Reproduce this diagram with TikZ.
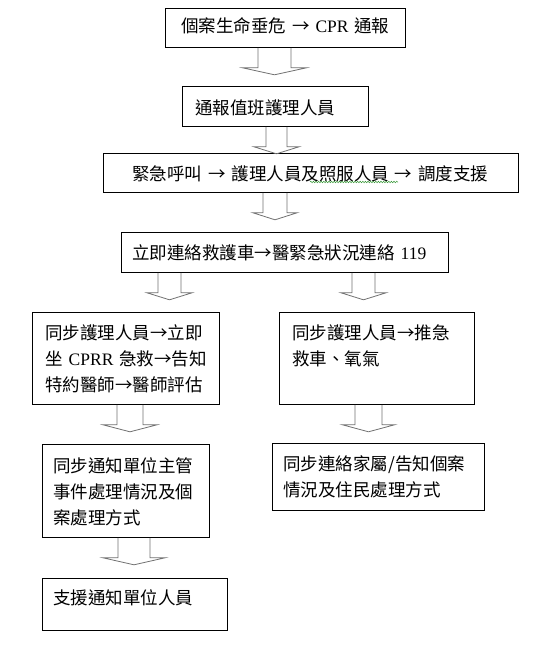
\documentclass[tikz,border=0pt]{standalone}
\usepackage{fontspec}
\setmainfont{Noto Sans CJK TC}
\newfontfamily\timesfont{Liberation Serif}
\usepackage{tikz}
\usepackage{xcolor}
\usetikzlibrary{decorations.pathmorphing}
\definecolor{ink}{HTML}{000000}
\definecolor{arrowgray}{HTML}{707070}
\definecolor{spellgreen}{HTML}{3A9A3A}
\tikzset{
  stepbox/.style={draw=ink, fill=white, line width=0.8pt, anchor=north west,
                  inner ysep=0pt, align=left, font=\fontsize{17.5}{26}\selectfont},
  fatarrow/.style={draw=arrowgray, line width=0.8pt, line join=miter}
}
% block arrow hanging under a box: node, x centre, shaft half, head half
\newcommand\fatdown[4]{%
  \draw[fatarrow] (#1.south -| #2,0) ++(-#3,0) -- ++(0,20) -- ++(#3-#4,0)
    -- ++(#4,7) -- ++(#4,-7) -- ++(#3-#4,0) -- ++(0,-20);}

\begin{document}
\begin{tikzpicture}[x=1pt,y=-1pt]
  \useasboundingbox (0,0) rectangle (542,647);

  % main column
  \node[stepbox, align=center, inner xsep=0pt, text width=240pt,
        text height=24.5pt, text depth=14.5pt] (report) at (165,8)
        {個案生命垂危 → {\timesfont CPR} 通報};
  \node[stepbox, inner xsep=13pt, text width=160pt,
        text height=28.6pt, text depth=11.4pt] (duty) at (182,86)
        {通報值班護理人員};
  \node[stepbox, inner xsep=29pt, text width=357pt,
        text height=26.6pt, text depth=12.4pt] (call) at (103,153)
        {緊急呼叫~→~護理人員及照服人員~→~調度支援};
  \draw[spellgreen, line width=0.5pt, decorate,
        decoration={snake, amplitude=0.8pt, segment length=2.6pt}] (310,182) -- (398,182);
  \node[stepbox, inner xsep=11pt, text width=305pt,
        text height=26.6pt, text depth=13.4pt] (ambulance) at (121,232)
        {立即連絡救護車→醫緊急狀況連絡~{\timesfont 119}};

  % left branch
  \node[stepbox, inner xsep=13pt, text width=161pt,
        text height=26.6pt, text depth=65.4pt] (cpr) at (32,312)
        {同步護理人員→立即\\坐~{\timesfont CPRR}~急救→告知\\特約醫師→醫師評估};
  \node[stepbox, inner xsep=11pt, text width=145pt,
        text height=27.6pt, text depth=65.4pt] (supervisor) at (42,444)
        {同步通知單位主管\\事件處理情況及個\\案處理方式};
  \node[stepbox, inner xsep=11pt, text width=163pt,
        text height=25.6pt, text depth=26.4pt] (support) at (42,578)
        {支援通知單位人員};

  % right branch
  \node[stepbox, inner xsep=13pt, text width=169pt,
        text height=26.6pt, text depth=65.4pt] (oxygen) at (279,312)
        {同步護理人員→推急\\救車、氧氣};
  \node[stepbox, inner xsep=11pt, text width=190pt,
        text height=26.6pt, text depth=40.4pt] (family) at (272,443)
        {同步連絡家屬/告知個案\\情況及住民處理方式};

  % arrows
  \fatdown{report}{274.5}{16.5}{32}
  \fatdown{duty}{276.5}{10.5}{22.5}
  \fatdown{call}{275}{12}{22}
  \fatdown{ambulance}{169.5}{11.5}{22.5}
  \fatdown{ambulance}{363.5}{11.5}{22.5}
  \fatdown{cpr}{130}{13}{27}
  \fatdown{oxygen}{368.5}{13.5}{26}
  \fatdown{supervisor}{134}{16}{31}
\end{tikzpicture}
\end{document}
